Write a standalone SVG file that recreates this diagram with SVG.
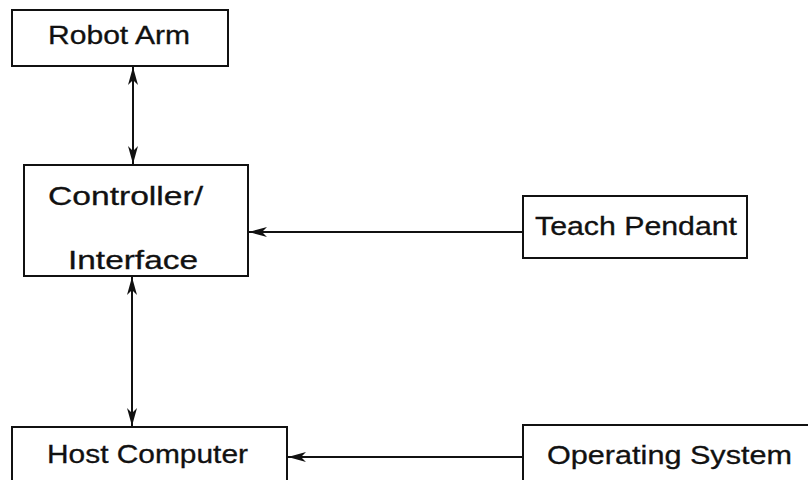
<svg xmlns="http://www.w3.org/2000/svg" width="808" height="480" viewBox="0 0 808 480">
  <style>
    .box { fill: #ffffff; stroke: #111111; stroke-width: 2; }
    .lbl { font-family: "Liberation Sans", "DejaVu Sans", sans-serif; font-size: 25px; fill: #111111; stroke: #111111; stroke-width: 0.3; }
    .wire { stroke: #111111; stroke-width: 2; fill: none; }
  </style>
  <defs>
    <marker id="head" viewBox="0 0 18 10" refX="18" refY="5" markerWidth="18" markerHeight="10" markerUnits="userSpaceOnUse" orient="auto-start-reverse">
      <path d="M0,0 L18,5 L0,10 L5,5 Z" fill="#111111"/>
    </marker>
  </defs>
  <rect width="808" height="480" fill="#ffffff"/>

  <g id="robot-arm">
    <rect class="box" x="12" y="10" width="216" height="56"/>
    <text class="lbl" x="48" y="44" textLength="142" lengthAdjust="spacingAndGlyphs">Robot Arm</text>
  </g>

  <g id="controller">
    <rect class="box" x="24" y="165" width="224" height="111"/>
    <text class="lbl" x="48" y="205" textLength="155" lengthAdjust="spacingAndGlyphs">Controller/</text>
    <text class="lbl" x="68" y="269" textLength="130" lengthAdjust="spacingAndGlyphs">Interface</text>
  </g>

  <g id="teach-pendant">
    <rect class="box" x="523" y="196" width="224" height="62"/>
    <text class="lbl" x="535" y="235" textLength="202" lengthAdjust="spacingAndGlyphs">Teach Pendant</text>
  </g>

  <g id="host-computer">
    <rect class="box" x="12" y="427" width="275" height="60"/>
    <text class="lbl" x="47" y="463" textLength="201" lengthAdjust="spacingAndGlyphs">Host Computer</text>
  </g>

  <g id="operating-system">
    <rect class="box" x="523" y="425" width="300" height="62"/>
    <text class="lbl" x="547" y="464" textLength="245" lengthAdjust="spacingAndGlyphs">Operating System</text>
  </g>

  <g id="connectors">
    <line class="wire" x1="133" y1="67" x2="133" y2="164" marker-start="url(#head)" marker-end="url(#head)"/>
    <line class="wire" x1="132" y1="277" x2="132" y2="426" marker-start="url(#head)" marker-end="url(#head)"/>
    <line class="wire" x1="523" y1="232" x2="249" y2="232" marker-end="url(#head)"/>
    <line class="wire" x1="523" y1="457" x2="288" y2="457" marker-end="url(#head)"/>
  </g>
</svg>
